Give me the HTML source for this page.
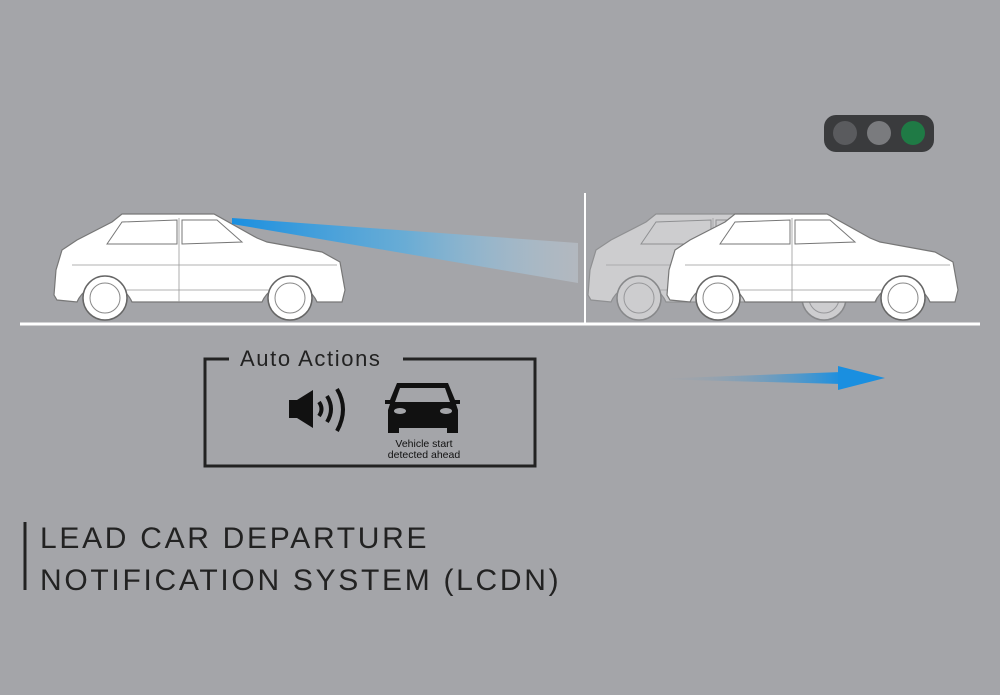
<!DOCTYPE html>
<html><head><style>
body{margin:0;background:#a4a5a9;}
svg{display:block}
</style></head><body>
<svg width="1000" height="695" viewBox="0 0 1000 695" xmlns="http://www.w3.org/2000/svg">
<defs>
<linearGradient id="beam" x1="0" x2="1" y1="0" y2="0">
<stop offset="0" stop-color="#1a8fe0"/>
<stop offset="0.5" stop-color="#5aaee0" stop-opacity="0.8"/>
<stop offset="1" stop-color="#c8d4e0" stop-opacity="0.4"/>
</linearGradient>
<linearGradient id="arr" x1="0" x2="1">
<stop offset="0" stop-color="#a4a5a9" stop-opacity="0"/>
<stop offset="1" stop-color="#1a8fe0"/>
</linearGradient>
<g id="car">
<path d="M2,85 L4,60 L10,40 L25,30 L60,12 L70,4 L162,4 L205,28 L215,32 L270,42 L288,52 L293,80 L290,92 L265,92 A30,30 0 0 0 210,92 L80,92 A30,30 0 0 0 25,92 L5,90 Z" fill="#fff" stroke="#777" stroke-width="1.2"/>
<path d="M55,34 L70,12 L125,10 L125,34 Z M130,10 L165,10 L190,32 L130,34 Z" fill="#fff" stroke="#777" stroke-width="1"/>
<path d="M127,8 L127,92 M20,55 L285,55 M40,80 L255,80" stroke="#999" stroke-width="0.8" fill="none"/>
<circle cx="53" cy="88" r="22" fill="#fff" stroke="#666" stroke-width="1.5"/>
<circle cx="53" cy="88" r="15" fill="none" stroke="#888" stroke-width="1"/>
<circle cx="238" cy="88" r="22" fill="#fff" stroke="#666" stroke-width="1.5"/>
<circle cx="238" cy="88" r="15" fill="none" stroke="#888" stroke-width="1"/>
</g>
</defs>
<g transform="translate(586,210)" opacity="0.45"><use href="#car"/></g>
<g transform="translate(52,210)"><use href="#car"/></g>
<g transform="translate(665,210)"><use href="#car"/></g>
<polygon points="232,218 578,243 578,283 232,224" fill="url(#beam)"/>
<line x1="20" y1="324" x2="980" y2="324" stroke="#fff" stroke-width="3"/>
<line x1="585" y1="193" x2="585" y2="324" stroke="#fff" stroke-width="2"/>
<rect x="824" y="115" width="110" height="37" rx="12" fill="#3a3b3d"/>
<circle cx="845" cy="133" r="12" fill="#5a5b5e"/>
<circle cx="879" cy="133" r="12" fill="#7a7b7e"/>
<circle cx="913" cy="133" r="12" fill="#1f7a45"/>
<polygon points="650,379 842,372 842,384" fill="url(#arr)"/>
<polygon points="838,366 885,378 838,390" fill="#1a8fe0"/>
<path d="M229,359 L205,359 L205,466 L535,466 L535,359 L403,359" fill="none" stroke="#222" stroke-width="3"/>
<text x="240" y="366" font-family="Liberation Sans, sans-serif" font-size="22" letter-spacing="1.6" fill="#222">Auto Actions</text>
<rect x="289" y="400" width="8" height="18" fill="#111"/>
<polygon points="297,400 313,390 313,428 297,418" fill="#111"/>
<path d="M319,402 Q324,409 319,416" fill="none" stroke="#111" stroke-width="4"/>
<path d="M327,396 Q335,409 327,422" fill="none" stroke="#111" stroke-width="4"/>
<path d="M337,389 Q349,409 337,431" fill="none" stroke="#111" stroke-width="4"/>
<path d="M397,383 L448,383 L455,400 L460,400 L460,404 L456,404 L458,410 L458,433 L447,433 L447,428 L399,428 L399,433 L388,433 L388,410 L390,404 L385,404 L385,400 L390,400 Z" fill="#111"/>
<polygon points="400,388 445,388 450,402 395,402" fill="#a4a5a9"/>
<ellipse cx="400" cy="411" rx="6" ry="3" fill="#a4a5a9"/>
<ellipse cx="446" cy="411" rx="6" ry="3" fill="#a4a5a9"/>
<text x="424" y="447" text-anchor="middle" font-family="Liberation Sans, sans-serif" font-size="10.5" fill="#111">Vehicle start</text>
<text x="424" y="458" text-anchor="middle" font-family="Liberation Sans, sans-serif" font-size="10.5" fill="#111">detected ahead</text>
<line x1="25" y1="522" x2="25" y2="590" stroke="#222" stroke-width="3"/>
<text x="40" y="548" font-family="Liberation Sans, sans-serif" font-size="30" letter-spacing="2.7" fill="#222">LEAD CAR DEPARTURE</text>
<text x="40" y="590" font-family="Liberation Sans, sans-serif" font-size="30" letter-spacing="2.7" fill="#222">NOTIFICATION SYSTEM (LCDN)</text>
</svg>
</body></html>
